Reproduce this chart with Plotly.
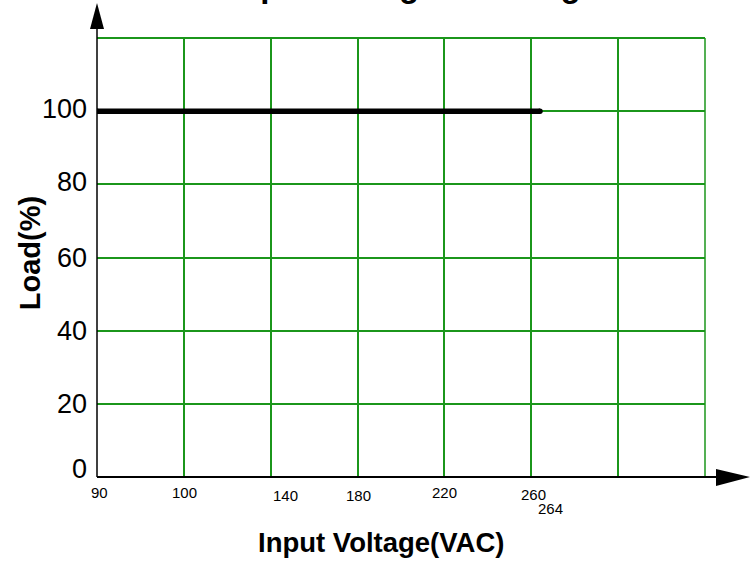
import numpy as np
import plotly.graph_objects as go

# ---- data ----
grid_voltages = [90, 100, 140, 180, 220, 260, 300, 340]   # voltage at each vertical gridline
x_tick_labels = ["90", "100", "140", "180", "220", "260", "264"]
x_tick_values = [90, 100, 140, 180, 220, 260, 264]
y_tick_values = [0, 20, 40, 60, 80, 100]
curve_voltage = [90, 264]
curve_load = [100, 100]

# non-uniform axis: gridlines are evenly spaced but represent uneven voltages
def vpos(v):
    return np.interp(v, grid_voltages, np.arange(len(grid_voltages)))

GREEN = "#1b961b"
fig = go.Figure()
fig.add_trace(go.Scatter(
    x=vpos(curve_voltage), y=curve_load, mode="lines+markers",
    line=dict(color="black", width=5.5), marker=dict(color="black", size=5.5),
    showlegend=False, hoverinfo="skip"))

fig.update_layout(
    width=750, height=563, plot_bgcolor="white", paper_bgcolor="white",
    margin=dict(l=97, r=45, t=38, b=86),
    font=dict(family="Liberation Sans, Arial, sans-serif", color="black"),
    xaxis=dict(range=[0, 7], tickvals=list(range(8)), showticklabels=False,
               showgrid=True, gridcolor=GREEN, gridwidth=1.5, zeroline=False,
               showline=False, mirror=False),
    yaxis=dict(range=[0, 120], tickvals=[0, 20, 40, 60, 80, 100, 120], showticklabels=False,
               showgrid=True, gridcolor=GREEN, gridwidth=1.5, zeroline=False, showline=False),
)

annotations = []
# x tick labels, staggered as in the original
x_label_dy = [15, 15, 18.5, 18.5, 15, 17, 31.5]
x_label_dx = [2.5, 0.5, 15, 0.5, 0, 2, 10.5]
for v, t, dy, dx in zip(x_tick_values, x_tick_labels, x_label_dy, x_label_dx):
    annotations.append(dict(x=vpos(v), y=0, xref="x", yref="y", text=t, showarrow=False,
                            xshift=dx, yshift=-dy, xanchor="center", yanchor="middle",
                            font=dict(family="Liberation Sans, sans-serif", size=15)))
# y tick labels
y_label_dy = [8, 0, 0, 0, 2, 2]
for v, dy in zip(y_tick_values, y_label_dy):
    annotations.append(dict(x=0, y=v, xref="paper", yref="y", text=str(v), showarrow=False,
                            xanchor="right", yanchor="middle", xshift=-8, yshift=dy,
                            font=dict(size=27)))
# axis titles
annotations.append(dict(x=0.467, y=-0.150, xref="paper", yref="paper", text="<b>Input Voltage(VAC)</b>",
                        showarrow=False, xanchor="center", yanchor="middle", font=dict(size=27.5)))
annotations.append(dict(x=-0.110, y=0.510, xref="paper", yref="paper", text="<b>Load(%)</b>",
                        showarrow=False, textangle=-90, xanchor="center", yanchor="middle",
                        font=dict(size=29)))
# title (mostly cropped off the top of the image)
annotations.append(dict(x=0.592, y=1.0, xref="paper", yref="paper", text="<b>Input Voltage Derating Curve</b>",
                        showarrow=False, xanchor="center", yanchor="bottom", yshift=32,
                        font=dict(size=33)))
fig.update_layout(annotations=annotations)

# axis lines with arrowheads (paper coordinates)
px0, px1 = 97, 705
py0, py1 = 38, 477
W, H = 608, 439
def px(x):
    return (x - px0) / W
def py(y):
    return (py1 - y) / H
shapes = [
    dict(type="line", xref="paper", yref="paper", x0=1, x1=1, y0=0, y1=1, line=dict(color=GREEN, width=1.5)),
    dict(type="line", xref="paper", yref="paper", x0=0, x1=1, y0=1, y1=1, line=dict(color=GREEN, width=2)),
    dict(type="line", xref="paper", yref="paper", x0=0, x1=0, y0=0, y1=py(26), line=dict(color="black", width=1.5)),
    dict(type="path", xref="paper", yref="paper",
         path=f"M {px(90)} {py(29)} L {px(97)} {py(3)} L {px(104)} {py(29)} Z",
         fillcolor="black", line=dict(color="black", width=0)),
    dict(type="line", xref="paper", yref="paper", x0=0, x1=px(720), y0=0, y1=0, line=dict(color="black", width=2)),
    dict(type="path", xref="paper", yref="paper",
         path=f"M {px(716)} {py(469)} L {px(750)} {py(477)} L {px(716)} {py(486)} Z",
         fillcolor="black", line=dict(color="black", width=0)),
]
fig.update_layout(shapes=shapes)

fig.write_html("out.html", config={"displayModeBar": False},
               post_script="document.body.style.margin='0px';")
